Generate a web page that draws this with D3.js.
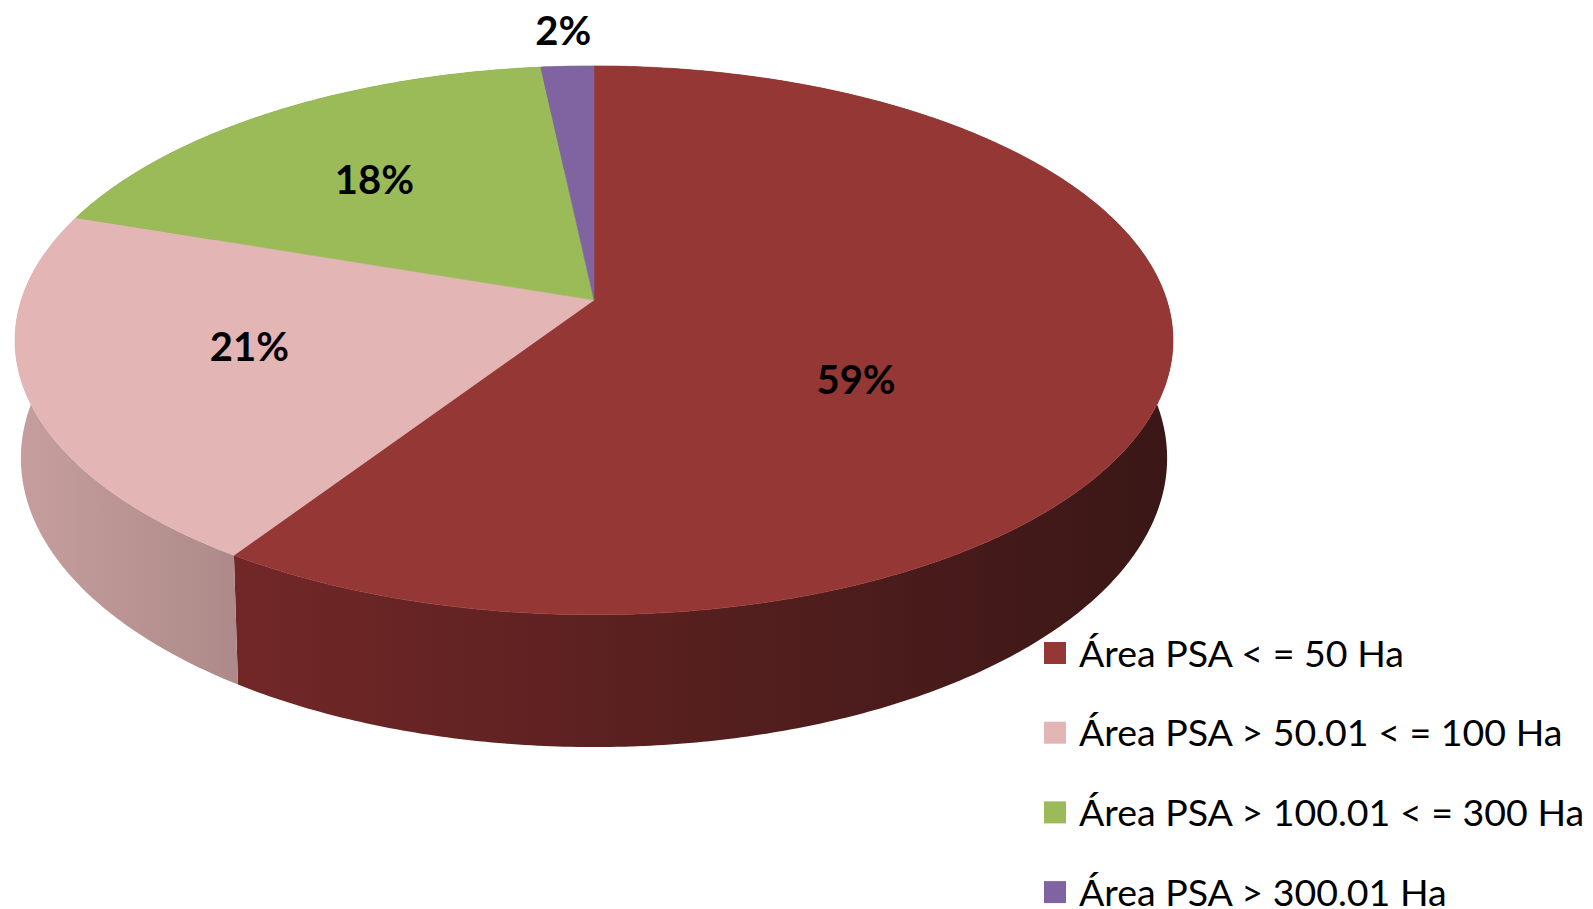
<!DOCTYPE html>
<html>
<head>
<meta charset="utf-8">
<script src="https://cdn.jsdelivr.net/npm/d3@7"></script>
<style>
  body { margin: 0; background: #fff; }
  svg { display: block; }
</style>
</head>
<body>
<div id="chart"></div>
<script>
// 3D pie — distribución de área PSA por rango de hectáreas

const categories = [
  "Área PSA < = 50 Ha",
  "Área PSA > 50.01 < = 100 Ha",
  "Área PSA > 100.01 < = 300 Ha",
  "Área PSA > 300.01 Ha"
];
const values = [59.3, 20.9, 18.1, 1.7];
const labels = ["59%", "21%", "18%", "2%"];

const topColors = ["#953735", "#e3b5b5", "#9bbb59", "#8064a2"];
// wall shading: [left, right]
const wallColors = [
  ["#722727", "#391716"],
  ["#c69e9e", "#ad8a89"],
  ["#6f8a3f", "#5c7334"],
  ["#5e4a78", "#4d3d63"]
];

const W = 1593, H = 909;

const svg = d3.select("#chart")
  .append("svg")
  .attr("width", W)
  .attr("height", H);

// perspective projection of the unit disc (top face h=0, bottom h=1)
const cx = 594, cy = 300;
const A = 268.5, B = 572.7, T = 117.3;
const k = 0.147, q = 0.01;

function project(theta, r, h) {
  const X = r * Math.sin(theta);
  const Z = -r * Math.cos(theta);
  const w = 1 - k * Z + q * h;
  return [cx + B * X / w, cy + (A * Z + T * h) / w];
}

const pie = d3.pie().sort(null).value(d => d)
  .startAngle(0).endAngle(2 * Math.PI);
const arcs = pie(values);

const line = d3.line();

function arcPts(a0, a1, h) {
  const n = Math.max(2, Math.ceil((a1 - a0) / 0.01));
  return d3.range(n + 1).map(i => project(a0 + (a1 - a0) * i / n, 1, h));
}

// gradients for side walls
const defs = svg.append("defs");
arcs.forEach((a, i) => {
  const pts = arcPts(a.startAngle, a.endAngle, 0).concat(arcPts(a.startAngle, a.endAngle, 1));
  const xs = pts.map(p => p[0]);
  const g = defs.append("linearGradient")
    .attr("id", "wall" + i)
    .attr("gradientUnits", "userSpaceOnUse")
    .attr("x1", d3.min(xs)).attr("x2", d3.max(xs))
    .attr("y1", 0).attr("y2", 0);
  g.append("stop").attr("offset", 0).attr("stop-color", wallColors[i][0]);
  g.append("stop").attr("offset", 1).attr("stop-color", wallColors[i][1]);
});

// walls first, tops over them
svg.append("g").selectAll("path")
  .data(arcs)
  .enter()
  .append("path")
  .attr("d", d => {
    const top = arcPts(d.startAngle, d.endAngle, 0);
    const bot = arcPts(d.startAngle, d.endAngle, 1).reverse();
    return line(top.concat(bot)) + "Z";
  })
  .attr("fill", (d, i) => `url(#wall${i})`);

svg.append("g").selectAll("path")
  .data(arcs)
  .enter()
  .append("path")
  .attr("d", d => {
    const pts = [[cx, cy]].concat(arcPts(d.startAngle, d.endAngle, 0));
    return line(pts) + "Z";
  })
  .attr("fill", (d, i) => topColors[i])
  .attr("stroke", (d, i) => topColors[i])
  .attr("stroke-width", 0.6);

// data labels: [radius, depth] placement per slice
const labelAt = [[0.47, 0.36], [0.617, -0.07], [0.66, 0.07], [1.18, 0]];

svg.append("g").selectAll("text")
  .data(arcs)
  .enter()
  .append("text")
  .attr("transform", (d, i) => {
    const mid = (d.startAngle + d.endAngle) / 2;
    const p = project(mid, labelAt[i][0], labelAt[i][1]);
    return `translate(${p[0]},${p[1]})`;
  })
  .attr("text-anchor", "middle")
  .attr("dy", "0.36em")
  .style("font-family", "Lato, 'Noto Sans', sans-serif")
  .style("font-weight", "700")
  .style("font-size", "40px")
  .style("fill", "#000")
  .text((d, i) => labels[i]);

// legend
const legend = svg.append("g")
  .attr("transform", "translate(1044, 653)");

categories.forEach((c, i) => {
  const g = legend.append("g")
    .attr("transform", `translate(0, ${i * 79.7})`);

  g.append("rect")
    .attr("x", 0)
    .attr("y", -11)
    .attr("width", 22)
    .attr("height", 22)
    .attr("fill", topColors[i]);

  g.append("text")
    .attr("x", 35)
    .attr("y", 0)
    .attr("dy", "0.36em")
    .text(c)
    .style("font-family", "Lato, 'Noto Sans', sans-serif")
    .style("font-size", "37.5px")
    .style("fill", "#000");
});
</script>
</body>
</html>
